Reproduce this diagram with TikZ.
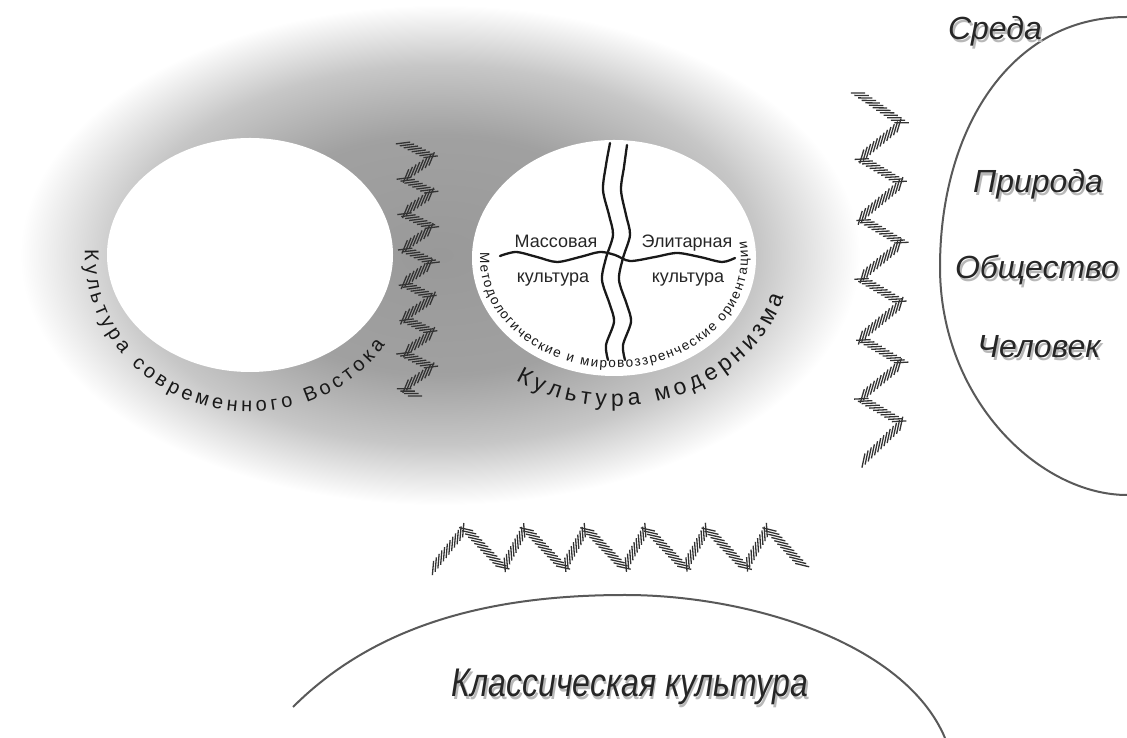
\documentclass[tikz,border=0pt]{standalone}
\usepackage{fontspec}
\setmainfont{Liberation Sans}
\usetikzlibrary{decorations.text,decorations.markings}

\pgfdeclareradialshading{haze}{\pgfpoint{0bp}{0bp}}{%
  color(0bp)=(black!40); color(12bp)=(black!37); color(19bp)=(black!22);
  color(25bp)=(white); color(50bp)=(white)}

\tikzset{
  hatchband/.style={decorate, decoration={markings,
      mark=between positions 0 and 1 step 4.4pt with
      {\draw[line width=1.3pt, black!80] (-6pt,-4pt) -- (6pt,4pt);}}},
  waveline/.style={line width=2.3pt, black!90, line cap=round},
  rim/.style={line width=2pt, black!65},
  plainlabel/.style={font=\fontsize{18}{20}\selectfont, text=black!85,
      inner sep=0pt, anchor=base},
  itlabel/.style={font=\fontsize{32}{36}\selectfont\itshape, text=black!85,
      inner sep=0pt, anchor=base},
  itshade/.style={itlabel, text=black!28},
}

% label with a soft shadow below it
\newcommand{\castlabel}[4][]{%
  \node[itshade,#1,xshift=2pt,yshift=-2.5pt] (#2s) at (#3) {#4};
  \node[itlabel,#1] (#2) at (#3) {#4};}

\begin{document}
\begin{tikzpicture}[x=1pt,y=1pt]
    \useasboundingbox (0,0) rectangle (1127,738);
    \fill[white] (0,0) rectangle (1127,738);

    % grey haze and the two white ovals
    \path[shading=haze] (440,483) ellipse [x radius=420, y radius=250];
    \fill[white] (250,483) ellipse [x radius=143, y radius=117];
    \fill[white] (614,480) ellipse [x radius=142, y radius=118];

    % curved captions
    \path[decorate, decoration={text along path, text align=fit to path,
        text={|\fontsize{20}{20}\selectfont\color{black!90}|Культура современного Востока}}]
      ([shift={(178:165 and 157)}]250,483)
      arc[start angle=178, end angle=325, x radius=165, y radius=157];
    \path[decorate, decoration={text along path, text align=fit to path,
        text={|\fontsize{23}{23}\selectfont\color{black!90}|Культура модернизма}}]
      ([shift={(236:176 and 148)}]614,480)
      arc[start angle=236, end angle=345, x radius=176, y radius=148];
    \path[decorate, decoration={text along path, text align=fit to path,
        text={|\fontsize{13.5}{14}\selectfont\color{black!90}|Методологические и мировоззренческие ориентации}}]
      ([shift={(177:134 and 110)}]614,480)
      arc[start angle=177, end angle=369, x radius=134, y radius=110];

    % crossing waves
    \draw[waveline] plot[smooth] coordinates {(610,595) (606,573) (603,548)
      (609,523) (613,503) (606,480) (602,458) (610,433) (614,416) (606,393) (608,378)};
    \draw[waveline] plot[smooth] coordinates {(627,593) (624,571) (621,548)
      (626,523) (630,503) (623,480) (619,458) (627,433) (631,416) (623,393) (625,378)};
    \draw[waveline] plot[smooth] coordinates {(500,482) (516,486) (537,481)
      (557,476) (580,481) (600,486) (615,483) (630,477) (655,481) (677,485)
      (700,481) (722,476) (735,480)};

    \node[plainlabel] (mass) at (556,490) {Массовая};
    \node[plainlabel] (massk) at (553,455) {культура};
    \node[plainlabel] (elite) at (687,490) {Элитарная};
    \node[plainlabel] (elitek) at (688,455) {культура};

    % hatched zigzags
    \path[hatchband] (403,595) \foreach \k in {0,...,6}
      { -- (433,{580-35*\k}) -- (403,{560-35*\k}) } -- (418,340);
    \path[hatchband] (858,645) \foreach \k in {0,...,4}
      { -- (902,{615-60*\k}) -- (860,{580-60*\k}) } -- (902,315) -- (862,276);
    \path[hatchband] (433,170) \foreach \k in {0,...,4}
      { -- ({465+60.5*\k},210) -- ({503+60.5*\k},170) } -- (768,210) -- (803,172);

    % environment
    \draw[rim] (1127,721) .. controls (1010,721) and (940,608) .. (940,471)
      .. controls (940,338) and (1040,243) .. (1127,243);
    \castlabel{sreda}{995,698}{Среда}
    \castlabel{nature}{1038,545}{Природа}
    \castlabel{society}{1037,459}{Общество}
    \castlabel{man}{1039,380}{Человек}

    % classical culture
    \draw[rim] (293,31) .. controls (380,118) and (500,143) .. (625,143)
      .. controls (750,143) and (905,95) .. (945,0);
    \castlabel[font=\fontsize{40}{44}\selectfont\itshape, xscale=0.8, transform shape]{classic}{630,41}{Классическая культура}
\end{tikzpicture}
\end{document}
